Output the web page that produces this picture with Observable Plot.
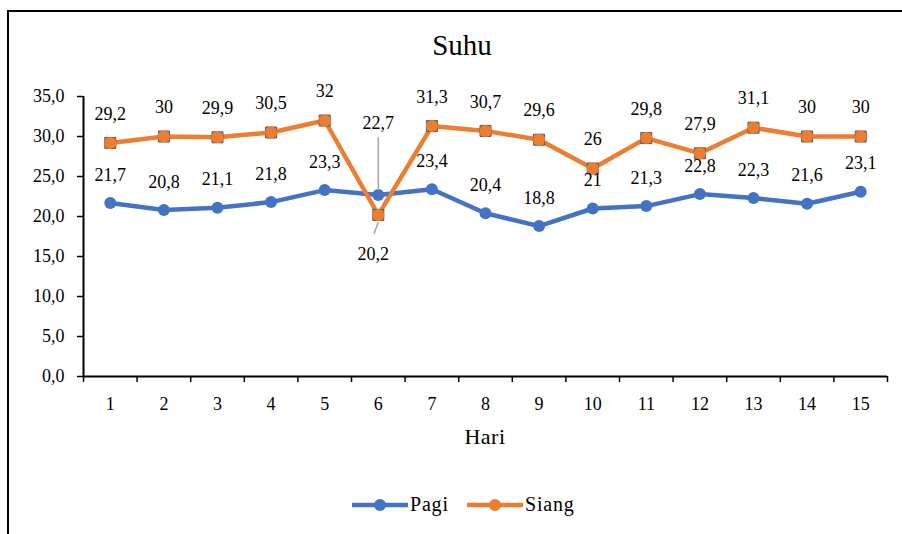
<!DOCTYPE html>
<html>
<head>
<meta charset="utf-8">
<script src="https://cdn.jsdelivr.net/npm/d3@7"></script>
<script src="https://cdn.jsdelivr.net/npm/@observablehq/plot@0.6"></script>
<style>
  html, body { margin: 0; padding: 0; background: #fff; }
  #wrap { position: relative; width: 902px; height: 534px; overflow: hidden; background: #fff;
          font-family: 'Liberation Serif', 'Times New Roman', serif; }
  #bl { position: absolute; left: 7px; top: 10px; width: 2px; height: 540px; background: #000; }
  #bt { position: absolute; left: 7px; top: 10px; width: 900px; height: 2px; background: #000; }
  #title { position: absolute; left: 0; top: 29px; width: 924px; text-align: center; font-size: 29px; color: #000;
           font-family: 'Liberation Serif', 'Times New Roman', serif; }
  #xlabel { position: absolute; left: 385px; top: 424px; width: 200px; text-align: center; font-size: 22px; color: #000;
           font-family: 'Liberation Serif', 'Times New Roman', serif; letter-spacing: 0.5px; }
  #chart { position: absolute; left: 0; top: 80px; }
  #legend { position: absolute; left: 352px; top: 493px; display: flex; align-items: center; font-size: 20px; letter-spacing: 0.8px; color: #000;
           font-family: 'Liberation Serif', 'Times New Roman', serif; }
  #legend .item { display: flex; align-items: center; }
  #legend svg { display: block; }
</style>
</head>
<body>
<div id="wrap">
  <div id="bl"></div>
  <div id="bt"></div>
  <div id="title">Suhu</div>
  <div id="chart"></div>
  <div id="xlabel">Hari</div>
  <div id="legend"></div>
</div>
<script>
const hari = [1, 2, 3, 4, 5, 6, 7, 8, 9, 10, 11, 12, 13, 14, 15];
const pagi = [21.7, 20.8, 21.1, 21.8, 23.3, 22.7, 23.4, 20.4, 18.8, 21, 21.3, 22.8, 22.3, 21.6, 23.1];
const siang = [29.2, 30, 29.9, 30.5, 32, 20.2, 31.3, 30.7, 29.6, 26, 29.8, 27.9, 31.1, 30, 30];
const seriNames = ["Pagi", "Siang"];
const seriColors = ["#4472C4", "#ED7D31"];
const yTicks = [0, 5, 10, 15, 20, 25, 30, 35];

const fmtVal = v => String(v).replace(".", ",");
const fmtTick = v => v.toFixed(1).replace(".", ",");

const pagiData = hari.map((h, i) => ({hari: h, suhu: pagi[i], seri: "Pagi"}));
const siangData = hari.map((h, i) => ({hari: h, suhu: siang[i], seri: "Siang"}));
const boundaries = [hari[0] - 0.5, ...hari.map(h => h + 0.5)];

const FONT = "'Liberation Serif', 'Times New Roman', serif";
const special = 6;
const txt = {fontSize: 18, fontFamily: FONT, fill: "#000", letterSpacing: 0.7};

const plot = Plot.plot({
  width: 902,
  height: 380,
  marginLeft: 83,
  marginRight: 15,
  marginTop: 16,
  marginBottom: 84,
  style: {fontFamily: FONT, fontSize: "18px", background: "transparent", overflow: "visible"},
  x: {type: "linear", domain: [boundaries[0], boundaries[boundaries.length - 1]]},
  y: {domain: [0, 35]},
  color: {domain: seriNames, range: seriColors},
  marks: [
    Plot.axisY({ticks: yTicks, tickSize: 6, tickPadding: 13, tickFormat: fmtTick, stroke: "#000", strokeWidth: 1.5, label: null, ...txt}),
    Plot.axisX({ticks: boundaries, tickSize: 6, tickFormat: () => "", stroke: "#000", strokeWidth: 1.5, label: null}),
    Plot.axisX({ticks: hari, tickSize: 0, tickPadding: 21, tickFormat: d => String(d), label: null, ...txt}),
    Plot.ruleY([0], {stroke: "#000", strokeWidth: 2}),
    Plot.ruleX([boundaries[0]], {stroke: "#000", strokeWidth: 2}),
    // Pagi series
    Plot.line(pagiData, {x: "hari", y: "suhu", stroke: "seri", strokeWidth: 4.5}),
    Plot.dot(pagiData, {x: "hari", y: "suhu", fill: "seri", r: 6}),
    // Siang series
    Plot.line(siangData, {x: "hari", y: "suhu", stroke: "seri", strokeWidth: 4.5}),
    Plot.dot(siangData, {x: "hari", y: "suhu", symbol: "square", r: 6.2, fill: "seri", stroke: "#555", strokeWidth: 1}),
    Plot.dot(siangData, {x: "hari", y: "suhu", fill: "seri", r: 6}),
    // leader lines
    Plot.link(pagiData.filter(d => d.hari === special), {x1: "hari", x2: "hari", y1: d => d.suhu + 0.6, y2: d => d.suhu + 7.2, stroke: "#a6a6a6", strokeWidth: 1.5}),
    Plot.link(siangData.filter(d => d.hari === special), {x1: "hari", x2: d => d.hari - 0.08, y1: d => d.suhu - 0.9, y2: d => d.suhu - 2.4, stroke: "#a6a6a6", strokeWidth: 1.5}),
    // labels
    Plot.text(pagiData.filter(d => d.hari !== special), {x: "hari", y: "suhu", text: d => fmtVal(d.suhu), dy: -28, ...txt}),
    Plot.text(siangData.filter(d => d.hari !== special), {x: "hari", y: "suhu", text: d => fmtVal(d.suhu), dy: -29, ...txt}),
    Plot.text(pagiData.filter(d => d.hari === special), {x: "hari", y: "suhu", text: d => fmtVal(d.suhu), dy: -72, ...txt}),
    Plot.text(siangData.filter(d => d.hari === special), {x: "hari", y: "suhu", text: d => fmtVal(d.suhu), dy: 39, dx: -5, ...txt})
  ]
});
document.getElementById("chart").appendChild(plot);

// legend
const legend = document.getElementById("legend");
seriNames.forEach((name, i) => {
  const item = document.createElement("div");
  item.className = "item";
  const ns = "http://www.w3.org/2000/svg";
  const svg = document.createElementNS(ns, "svg");
  svg.setAttribute("width", 56);
  svg.setAttribute("height", 20);
  const line = document.createElementNS(ns, "line");
  line.setAttribute("x1", 1); line.setAttribute("x2", 55);
  line.setAttribute("y1", 10); line.setAttribute("y2", 10);
  line.setAttribute("stroke", seriColors[i]); line.setAttribute("stroke-width", 4.5);
  line.setAttribute("stroke-linecap", "round");
  const c = document.createElementNS(ns, "circle");
  c.setAttribute("cx", 28); c.setAttribute("cy", 10); c.setAttribute("r", 6);
  c.setAttribute("fill", seriColors[i]);
  svg.appendChild(line); svg.appendChild(c);
  const t = document.createElement("span");
  t.textContent = name;
  t.style.marginLeft = "2px";
  item.appendChild(svg); item.appendChild(t);
  if (i === 0) { t.style.display = "inline-block"; t.style.width = "57px"; }
  legend.appendChild(item);
});
</script>
</body>
</html>
